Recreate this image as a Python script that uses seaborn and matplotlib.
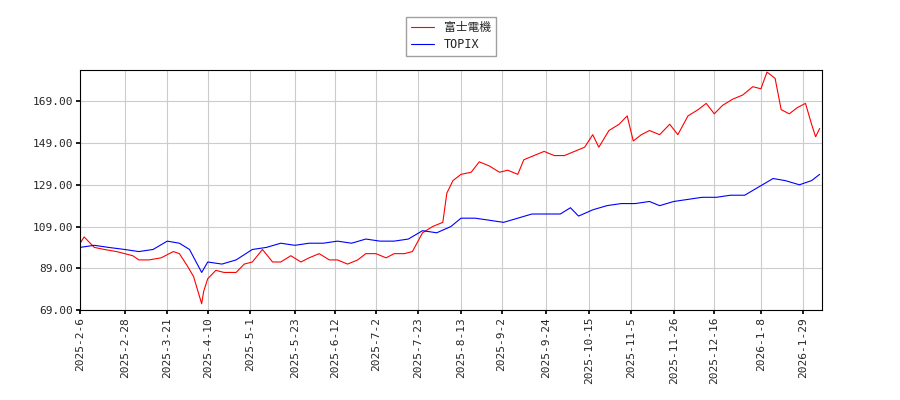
import matplotlib
matplotlib.use("Agg")
import matplotlib.pyplot as plt
import seaborn as sns
import pandas as pd
import numpy as np

fuji_dates = ["2025-02-06","2025-02-08","2025-02-13","2025-02-18","2025-02-24","2025-02-28","2025-03-04","2025-03-07","2025-03-12","2025-03-18","2025-03-24","2025-03-27","2025-03-31","2025-04-03","2025-04-07","2025-04-08","2025-04-10","2025-04-14","2025-04-18","2025-04-24","2025-04-28","2025-05-02","2025-05-07","2025-05-12","2025-05-16","2025-05-21","2025-05-26","2025-05-30","2025-06-04","2025-06-09","2025-06-13","2025-06-18","2025-06-23","2025-06-27","2025-07-02","2025-07-07","2025-07-11","2025-07-16","2025-07-20","2025-07-25","2025-07-30","2025-08-04","2025-08-06","2025-08-09","2025-08-13","2025-08-18","2025-08-22","2025-08-27","2025-09-01","2025-09-05","2025-09-10","2025-09-13","2025-09-18","2025-09-23","2025-09-28","2025-10-03","2025-10-08","2025-10-13","2025-10-17","2025-10-20","2025-10-25","2025-10-30","2025-11-03","2025-11-06","2025-11-10","2025-11-14","2025-11-19","2025-11-24","2025-11-28","2025-12-03","2025-12-08","2025-12-12","2025-12-16","2025-12-20","2025-12-25","2025-12-30","2026-01-04","2026-01-08","2026-01-11","2026-01-15","2026-01-18","2026-01-22","2026-01-26","2026-01-30","2026-02-02","2026-02-04","2026-02-06"]
fuji_vals = [101,104,99,98,97,96,95,93,93,94,97,96,90,85,72,78,84,88,87,87,91,92,98,92,92,95,92,94,96,93,93,91,93,96,96,94,96,96,97,106,109,111,125,131,134,135,140,138,135,136,134,141,143,145,143,143,145,147,153,147,155,158,162,150,153,155,153,158,153,162,165,168,163,167,170,172,176,175,183,180,165,163,166,168,158,152,156]

topix_dates = ["2025-02-06","2025-02-13","2025-02-20","2025-02-28","2025-03-07","2025-03-14","2025-03-21","2025-03-27","2025-04-01","2025-04-07","2025-04-10","2025-04-17","2025-04-24","2025-05-02","2025-05-09","2025-05-16","2025-05-23","2025-05-30","2025-06-06","2025-06-13","2025-06-20","2025-06-27","2025-07-04","2025-07-11","2025-07-18","2025-07-25","2025-08-01","2025-08-08","2025-08-13","2025-08-20","2025-08-27","2025-09-03","2025-09-10","2025-09-17","2025-09-24","2025-10-01","2025-10-06","2025-10-10","2025-10-17","2025-10-24","2025-10-31","2025-11-07","2025-11-14","2025-11-19","2025-11-26","2025-12-03","2025-12-10","2025-12-17","2025-12-24","2025-12-31","2026-01-07","2026-01-14","2026-01-20","2026-01-27","2026-02-02","2026-02-06"]
topix_vals = [99,100,99,98,97,98,102,101,98,87,92,91,93,98,99,101,100,101,101,102,101,103,102,102,103,107,106,109,113,113,112,111,113,115,115,115,118,114,117,119,120,120,121,119,121,122,123,123,124,124,128,132,131,129,131,134]

tick_labels = ["2025-2-6","2025-2-28","2025-3-21","2025-4-10","2025-5-1","2025-5-23","2025-6-12","2025-7-2","2025-7-23","2025-8-13","2025-9-2","2025-9-24","2025-10-15","2025-11-5","2025-11-26","2025-12-16","2026-1-8","2026-1-29"]

sns.set_theme(style="whitegrid")
plt.rcParams['font.family'] = ['DejaVu Sans Mono', 'Noto Sans CJK JP']

fig = plt.figure(figsize=(9, 4), dpi=100)
ax = fig.add_axes([0.089, 0.225, 0.824, 0.6])
df1 = pd.DataFrame({"d": pd.to_datetime(fuji_dates), "v": fuji_vals})
df2 = pd.DataFrame({"d": pd.to_datetime(topix_dates), "v": topix_vals})
sns.lineplot(data=df1, x="d", y="v", color="red", lw=0.8, ax=ax, label="富士電機")
sns.lineplot(data=df2, x="d", y="v", color="blue", lw=0.8, ax=ax, label="TOPIX")

ax.set_xticks(pd.to_datetime(tick_labels))
ax.set_xticklabels(tick_labels, rotation=90, fontsize=8)
ax.set_xlim(pd.Timestamp("2025-02-06"), pd.Timestamp("2026-02-07"))
ax.set_ylim(69, 184)
yt = [69, 89, 109, 129, 149, 169]
ax.set_yticks(yt)
ax.set_yticklabels([f"{v:.2f}" for v in yt], fontsize=8)
ax.set_xlabel(""); ax.set_ylabel("")
ax.grid(color="#cccccc", lw=0.8)
for s in ax.spines.values():
    s.set_color("black"); s.set_linewidth(0.8)
ax.tick_params(length=3, color="black", bottom=True, left=True, pad=2)
ax.set_facecolor("white")
ax.legend(loc="lower center", bbox_to_anchor=(0.5, 1.035), fontsize=8.5, frameon=True,
          fancybox=False, edgecolor="#888888", handlelength=2, borderpad=0.4, labelspacing=0.3)
fig.savefig("out.png", dpi=100, facecolor="white")
